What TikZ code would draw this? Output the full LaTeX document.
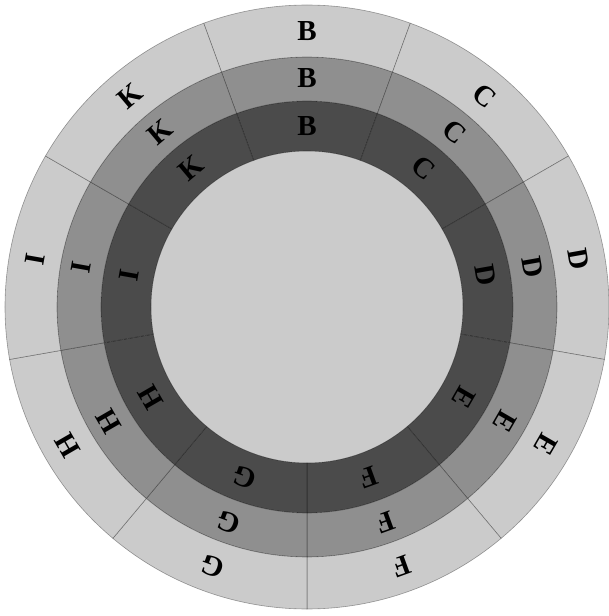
\documentclass[tikz,border=0pt]{standalone}
\usepackage{fontspec}
\setmainfont{Liberation Serif}
\definecolor{ringA}{HTML}{4B4B4B}
\definecolor{ringB}{HTML}{8F8F8F}
\definecolor{ringC}{HTML}{CBCBCB}
\definecolor{hub}{HTML}{CBCBCB}
\begin{document}
\begin{tikzpicture}
\tikzset{
  seg/.style={draw=black,draw opacity=0.35,line width=0.6pt},
  lab/.style={font=\bfseries\fontsize{29}{31}\selectfont,inner sep=0pt,text=black}
}
\useasboundingbox (-307pt,-309pt) rectangle (302pt,307pt);
\fill[hub] (0,0) circle (156pt);
\foreach \a/\t [count=\i] in {90/B,50/C,10/D,-30/E,-70/F,-110/G,-150/H,170/I,130/K} {
  \foreach \ri/\ro/\c/\rl [count=\j] in {156pt/206pt/ringA/181pt,206pt/250pt/ringB/229pt,250pt/302pt/ringC/276pt} {
    \path[seg,fill=\c] ({\a-20}:\ri) -- ({\a-20}:\ro)
      arc[start angle={\a-20},end angle={\a+20},radius=\ro]
      -- ({\a+20}:\ri)
      arc[start angle={\a+20},end angle={\a-20},radius=\ri] -- cycle;
    \node[lab,rotate=\a-90] (l\i\j) at (\a:\rl) {\t};
  }
}
\end{tikzpicture}
\end{document}
